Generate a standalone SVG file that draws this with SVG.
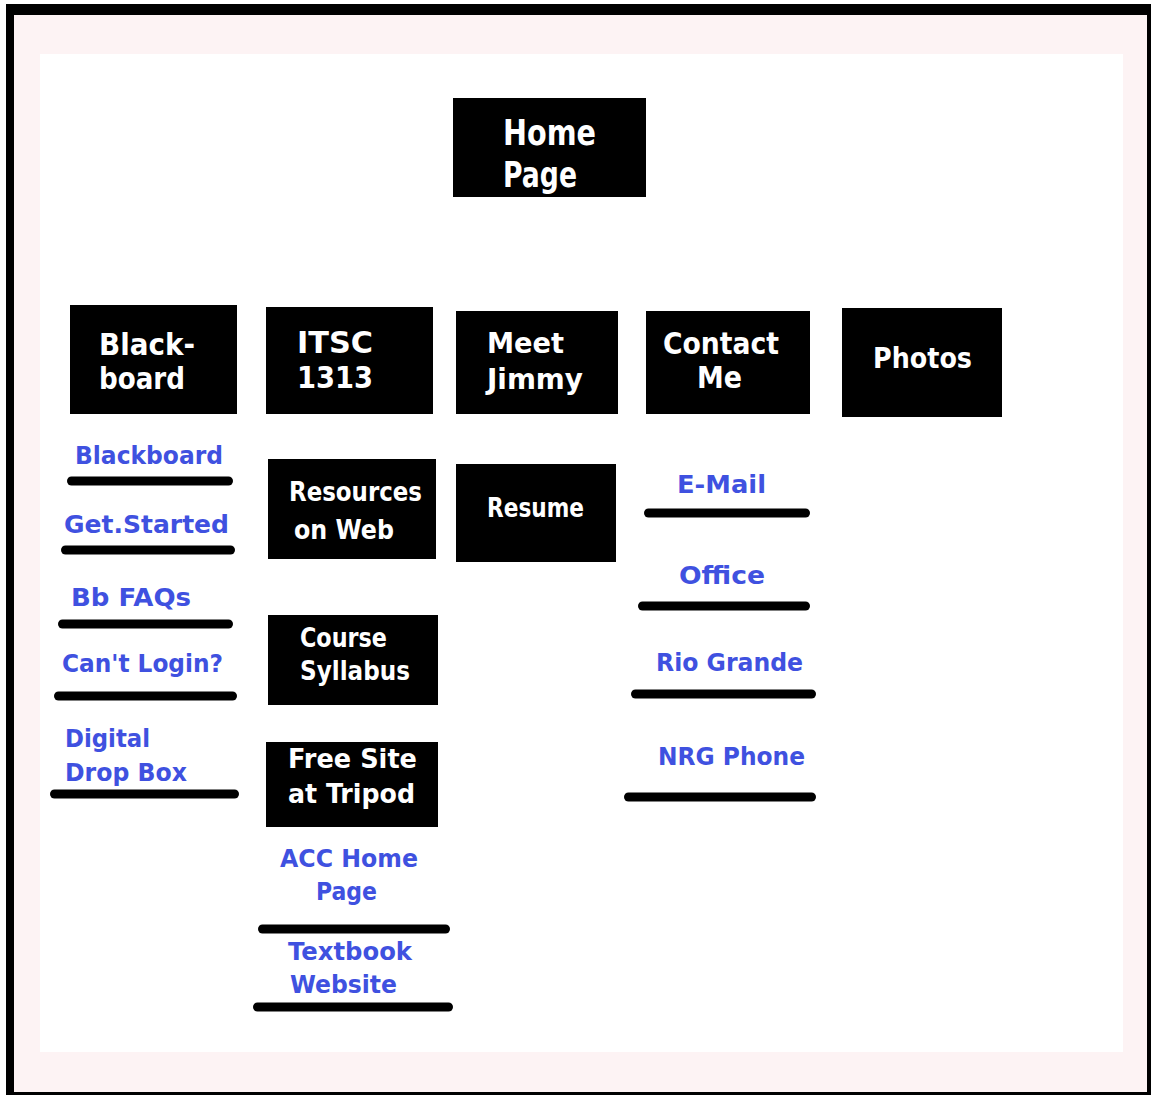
<svg xmlns="http://www.w3.org/2000/svg" width="1151" height="1095" viewBox="0 0 1151 1095">
<style>
.box{fill:#000}
.w{fill:#fff;font-family:"Comic Sans MS","DejaVu Sans",sans-serif;font-weight:bold}
.l{fill:#3f51e0;font-family:"Comic Sans MS","DejaVu Sans",sans-serif;font-weight:bold;font-size:24px}
.bar{stroke:#000;stroke-width:9;stroke-linecap:round}
</style>
<rect x="0" y="0" width="1151" height="1095" fill="#fff"/>
<rect x="6" y="4" width="1145" height="1091" fill="#000"/>
<rect x="14" y="15" width="1133" height="1077" fill="#fdf3f4"/>
<rect x="40" y="54" width="1083" height="998" fill="#fff"/>

<g id="home">
<rect class="box" x="453" y="98" width="193" height="99"/>
<text class="w" font-size="36" x="503" y="145" textLength="93" lengthAdjust="spacingAndGlyphs">Home</text>
<text class="w" font-size="36" x="503" y="187" textLength="74" lengthAdjust="spacingAndGlyphs">Page</text>
</g>

<g id="blackboard-box">
<rect class="box" x="70" y="305" width="167" height="109"/>
<text class="w" font-size="31" x="99" y="355" textLength="96" lengthAdjust="spacingAndGlyphs">Black-</text>
<text class="w" font-size="31" x="99" y="389" textLength="86" lengthAdjust="spacingAndGlyphs">board</text>
</g>
<g id="itsc">
<rect class="box" x="266" y="307" width="167" height="107"/>
<text class="w" font-size="31" x="297" y="353" textLength="76" lengthAdjust="spacingAndGlyphs">ITSC</text>
<text class="w" font-size="31" x="297" y="388" textLength="76" lengthAdjust="spacingAndGlyphs">1313</text>
</g>
<g id="meet">
<rect class="box" x="456" y="311" width="162" height="103"/>
<text class="w" font-size="28" x="487" y="353" textLength="77" lengthAdjust="spacingAndGlyphs">Meet</text>
<text class="w" font-size="28" x="487" y="389" textLength="96" lengthAdjust="spacingAndGlyphs">Jimmy</text>
</g>
<g id="contact">
<rect class="box" x="646" y="311" width="164" height="103"/>
<text class="w" font-size="30" x="663" y="354" textLength="116" lengthAdjust="spacingAndGlyphs">Contact</text>
<text class="w" font-size="30" x="697" y="388" textLength="45" lengthAdjust="spacingAndGlyphs">Me</text>
</g>
<g id="photos">
<rect class="box" x="842" y="308" width="160" height="109"/>
<text class="w" font-size="29" x="873" y="368" textLength="99" lengthAdjust="spacingAndGlyphs">Photos</text>
</g>
<g id="resources">
<rect class="box" x="268" y="459" width="168" height="100"/>
<text class="w" font-size="27" x="289" y="501" textLength="133" lengthAdjust="spacingAndGlyphs">Resources</text>
<text class="w" font-size="27" x="294" y="539" textLength="100" lengthAdjust="spacingAndGlyphs">on Web</text>
</g>
<g id="resume">
<rect class="box" x="456" y="464" width="160" height="98"/>
<text class="w" font-size="26" x="487" y="517" textLength="97" lengthAdjust="spacingAndGlyphs">Resume</text>
</g>
<g id="syllabus">
<rect class="box" x="268" y="615" width="170" height="90"/>
<text class="w" font-size="27" x="300" y="647" textLength="87" lengthAdjust="spacingAndGlyphs">Course</text>
<text class="w" font-size="27" x="300" y="680" textLength="110" lengthAdjust="spacingAndGlyphs">Syllabus</text>
</g>
<g id="tripod">
<rect class="box" x="266" y="742" width="172" height="85"/>
<text class="w" font-size="27" x="288" y="768" textLength="129" lengthAdjust="spacingAndGlyphs">Free Site</text>
<text class="w" font-size="27" x="288" y="803" textLength="127" lengthAdjust="spacingAndGlyphs">at Tripod</text>
</g>

<g id="link-blackboard">
<text class="l" x="75" y="464" textLength="148" lengthAdjust="spacingAndGlyphs">Blackboard</text>
<line class="bar" x1="71.5" y1="481" x2="228.5" y2="481"/>
</g>
<g id="link-getstarted">
<text class="l" x="64" y="533" textLength="165" lengthAdjust="spacingAndGlyphs">Get.Started</text>
<line class="bar" x1="65.5" y1="550" x2="230.5" y2="550"/>
</g>
<g id="link-bbfaqs">
<text class="l" x="71" y="606" textLength="120" lengthAdjust="spacingAndGlyphs">Bb FAQs</text>
<line class="bar" x1="62.5" y1="624" x2="228.5" y2="624"/>
</g>
<g id="link-cantlogin">
<text class="l" x="62" y="672" textLength="161" lengthAdjust="spacingAndGlyphs">Can't Login?</text>
<line class="bar" x1="58.5" y1="696" x2="232.5" y2="696"/>
</g>
<g id="link-dropbox">
<text class="l" x="65" y="747" textLength="85" lengthAdjust="spacingAndGlyphs">Digital</text>
<text class="l" x="65" y="781" textLength="122" lengthAdjust="spacingAndGlyphs">Drop Box</text>
<line class="bar" x1="54.5" y1="794" x2="234.5" y2="794"/>
</g>
<g id="link-email">
<text class="l" x="677" y="493" textLength="89" lengthAdjust="spacingAndGlyphs">E-Mail</text>
<line class="bar" x1="648.5" y1="513" x2="805.5" y2="513"/>
</g>
<g id="link-office">
<text class="l" x="679" y="584" textLength="86" lengthAdjust="spacingAndGlyphs">Office</text>
<line class="bar" x1="642.5" y1="606" x2="805.5" y2="606"/>
</g>
<g id="link-riogrande">
<text class="l" x="656" y="671" textLength="147" lengthAdjust="spacingAndGlyphs">Rio Grande</text>
<line class="bar" x1="635.5" y1="694" x2="811.5" y2="694"/>
</g>
<g id="link-nrgphone">
<text class="l" x="658" y="765" textLength="147" lengthAdjust="spacingAndGlyphs">NRG Phone</text>
<line class="bar" x1="628.5" y1="797" x2="811.5" y2="797"/>
</g>
<g id="link-acc">
<text class="l" x="280" y="867" textLength="138" lengthAdjust="spacingAndGlyphs">ACC Home</text>
<text class="l" x="316" y="900" textLength="61" lengthAdjust="spacingAndGlyphs">Page</text>
<line class="bar" x1="262.5" y1="929" x2="445.5" y2="929"/>
</g>
<g id="link-textbook">
<text class="l" x="288" y="960" textLength="124" lengthAdjust="spacingAndGlyphs">Textbook</text>
<text class="l" x="290" y="993" textLength="107" lengthAdjust="spacingAndGlyphs">Website</text>
<line class="bar" x1="257.5" y1="1007" x2="448.5" y2="1007"/>
</g>
</svg>
